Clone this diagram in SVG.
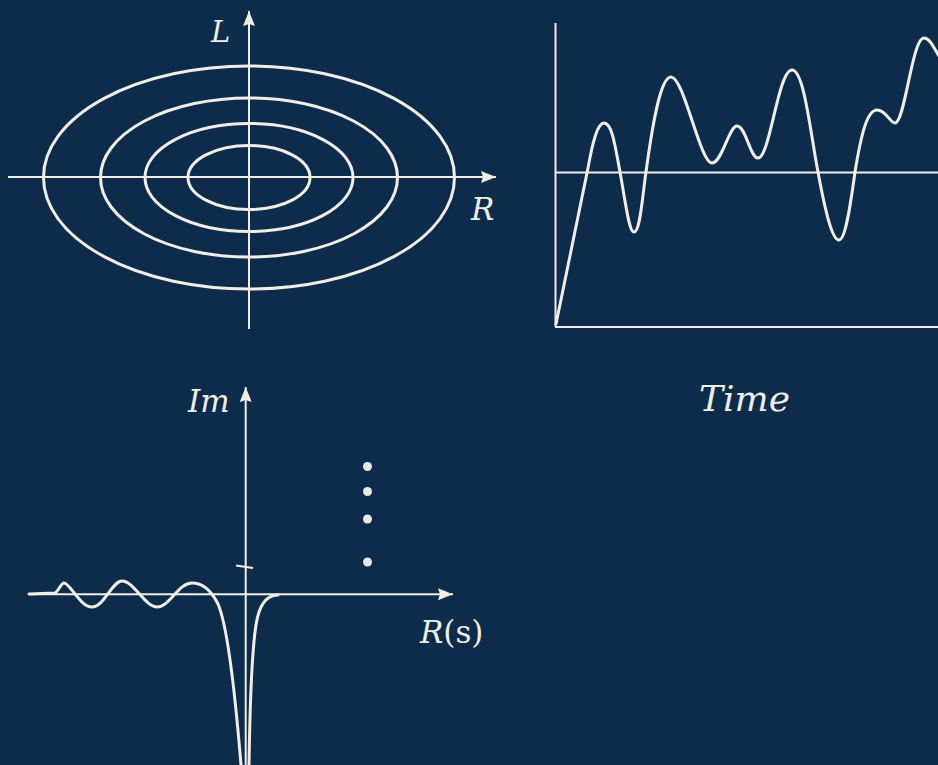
<svg xmlns="http://www.w3.org/2000/svg" width="938" height="765" viewBox="0 0 938 765">
<style>
.ax{stroke:#f1eee5;stroke-width:2;fill:none}
.cv{stroke:#f1eee5;stroke-width:3;fill:none;stroke-linejoin:round;stroke-linecap:round}
.lbl{font-family:"DejaVu Serif","Liberation Serif",serif;font-style:italic;fill:#f1eee5}
.up{font-family:"DejaVu Serif","Liberation Serif",serif;fill:#f1eee5}
</style>
<defs>
<marker id="arr" markerUnits="userSpaceOnUse" markerWidth="16" markerHeight="14" refX="15" refY="6" orient="auto">
<path d="M0,0 L15,6 L0,12 L2,6 Z" fill="#f1eee5"/>
</marker>
</defs>
<rect width="938" height="765" fill="#0d2b4b"/>
<g id="phase-plot">
<ellipse class="cv" cx="249" cy="177.5" rx="205.5" ry="111.5"/>
<ellipse class="cv" cx="249" cy="177.5" rx="148.5" ry="79.5"/>
<ellipse class="cv" cx="249" cy="177.5" rx="104" ry="54"/>
<ellipse class="cv" cx="249" cy="177.5" rx="61" ry="32"/>
<line class="ax" x1="249" y1="329" x2="249" y2="11" marker-end="url(#arr)"/>
<line class="ax" x1="8" y1="177" x2="496" y2="177" marker-end="url(#arr)"/>
<text class="lbl" x="211" y="42" font-size="29">L</text>
<text class="lbl" x="471" y="220" font-size="31">R</text>
</g>
<g id="time-plot">
<line class="ax" x1="555.5" y1="23" x2="555.5" y2="327"/>
<line class="ax" x1="555" y1="327" x2="938" y2="327"/>
<line class="ax" x1="555" y1="172.5" x2="938" y2="172.5"/>
<path class="cv" d="M556,324 L588,168 C593,140 598,123 604,123 C612,123 615,145 620,172 C626,205 629,232 634,232 C640,232 642,200 646,172 C652,128 660,77 671,77 C684,77 700,163 712,163 C722,163 729,126 737,126 C746,126 750,158 758,158 C770,158 778,70 792,70 C804,70 810,130 818,172 C825,210 832,240 839,240 C846,240 851,200 855,172 C861,135 867,110 877,110 C886,110 890,123 895,123 C905,123 912,38 924,38 C930,38 934,48 940,58"/>
<text class="lbl" x="699" y="411" font-size="36">Time</text>
</g>
<g id="s-plane">
<line class="ax" x1="245.7" y1="765" x2="245.7" y2="387" marker-end="url(#arr)"/>
<line class="ax" x1="29" y1="594.3" x2="453" y2="594.3" marker-end="url(#arr)"/>
<line class="ax" x1="236" y1="565.5" x2="253" y2="568"/>
<path class="cv" d="M29,594 L55,593 C58,592 61,583 64,583 C70,583 80,607 92,607 C104,607 112,581 122,581 C134,581 145,607 157,607 C170,607 178,583 192,583 C204,583 212,592 218,604 C226,622 234,680 241,765"/>
<path class="cv" d="M249,765 C250,700 252,650 256,625 C259,605 266,595 278,595"/>
<g fill="#ece9e0">
<circle cx="367.5" cy="466.5" r="4.5"/>
<circle cx="367.5" cy="491.5" r="4.5"/>
<circle cx="367.5" cy="519" r="4.5"/>
<circle cx="367.5" cy="562" r="4.5"/>
</g>
<text class="lbl" x="188" y="412" font-size="31">Im</text>
<text x="420" y="643" font-size="31" class="up"><tspan class="lbl">R</tspan>(s)</text>
</g>
</svg>
